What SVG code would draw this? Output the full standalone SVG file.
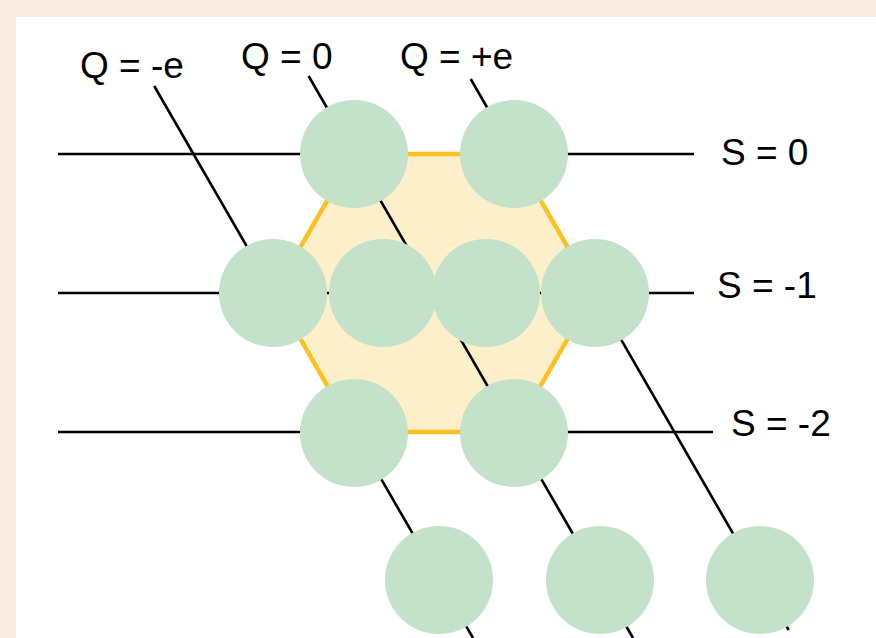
<svg xmlns="http://www.w3.org/2000/svg" width="876" height="638" viewBox="0 0 876 638">
  <style>
    .ln { stroke: #000; stroke-width: 2.6; fill: none; stroke-linecap: butt; }
    .hex-fill { fill: #fcefca; stroke: none; }
    .hex-edge { fill: none; stroke: #fcc020; stroke-width: 4.5; stroke-linejoin: miter; }
    .node { fill: #c3e2c9; stroke: none; }
    .lbl { font-family: "Liberation Sans", Arial, sans-serif; font-size: 37px; fill: #000; }
  </style>

  <!-- page background and panel -->
  <rect x="0" y="0" width="876" height="638" fill="#f9ede3"/>
  <rect x="16" y="17" width="860" height="621" fill="#ffffff"/>

  <!-- octet hexagon (fill below connectors) -->
  <polygon class="hex-fill" points="354,154 514,154 594,293 514,432 354,432 274,293"/>

  <!-- connectors: strangeness rows and charge diagonals -->
  <g id="connectors">
    <line class="ln" x1="58" y1="154" x2="694" y2="154"/>
    <line class="ln" x1="58" y1="293" x2="694" y2="293"/>
    <line class="ln" x1="58" y1="432" x2="713" y2="432"/>
    <line class="ln" x1="154.2" y1="86" x2="473" y2="638"/>
    <line class="ln" x1="308.6" y1="76" x2="633" y2="638"/>
    <line class="ln" x1="470.7" y1="79" x2="788.7" y2="630"/>
  </g>

  <!-- hexagon outline on top of coincident connectors -->
  <polygon class="hex-edge" points="354,154 514,154 594,293 514,432 354,432 274,293"/>

  <!-- particles -->
  <g id="n-s0-a"><circle class="node" cx="354" cy="154" r="54"/></g>
  <g id="n-s0-b"><circle class="node" cx="514" cy="154" r="54"/></g>
  <g id="n-s1-a"><circle class="node" cx="273" cy="293" r="54"/></g>
  <g id="n-s1-b"><circle class="node" cx="383" cy="293" r="54"/></g>
  <g id="n-s1-c"><circle class="node" cx="486" cy="293" r="54"/></g>
  <g id="n-s1-d"><circle class="node" cx="595" cy="293" r="54"/></g>
  <g id="n-s2-a"><circle class="node" cx="354" cy="433" r="54"/></g>
  <g id="n-s2-b"><circle class="node" cx="514" cy="433" r="54"/></g>
  <g id="n-s3-a"><circle class="node" cx="439" cy="580" r="54"/></g>
  <g id="n-s3-b"><circle class="node" cx="600" cy="580" r="54"/></g>
  <g id="n-s3-c"><circle class="node" cx="760" cy="580" r="54"/></g>

  <!-- charge labels -->
  <text class="lbl" x="80" y="78">Q = -e</text>
  <text class="lbl" x="241" y="69">Q = 0</text>
  <text class="lbl" x="400" y="69">Q = +e</text>

  <!-- strangeness labels -->
  <text class="lbl" x="721" y="165">S = 0</text>
  <text class="lbl" x="717" y="298">S = -1</text>
  <text class="lbl" x="731" y="436">S = -2</text>
</svg>
